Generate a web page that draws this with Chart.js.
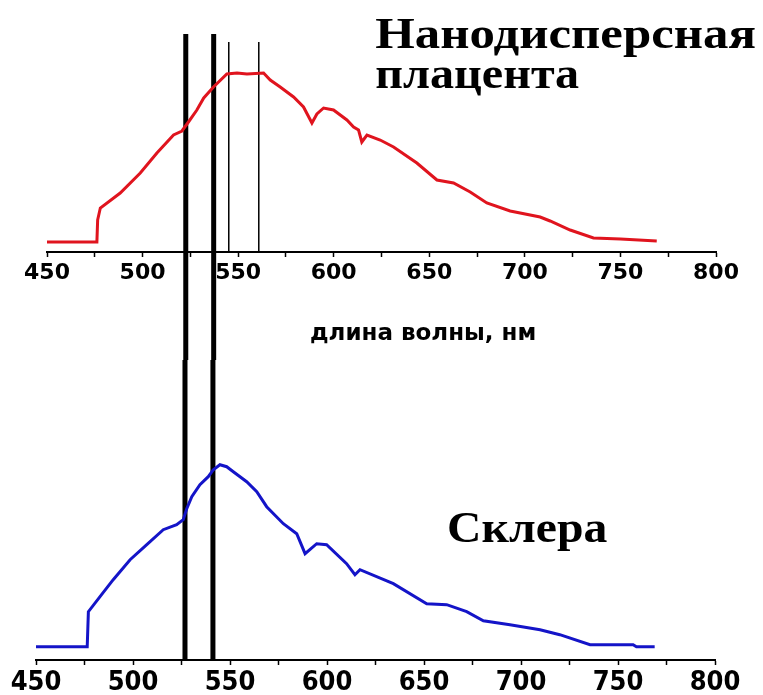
<!DOCTYPE html>
<html>
<head>
<meta charset="utf-8">
<script src="https://cdn.jsdelivr.net/npm/chart.js@4/dist/chart.umd.min.js"></script>
<style>
  html, body { margin: 0; padding: 0; background: #fff; }
  #wrap { position: relative; width: 763px; height: 695px; }
  canvas { position: absolute; left: 0; }
  #chart-top { top: 0; }
  #chart-bottom { top: 360px; }
</style>
</head>
<body>
<div id="wrap">
  <canvas id="chart-top" width="763" height="360"></canvas>
  <canvas id="chart-bottom" width="763" height="335"></canvas>
</div>
<script>
// spectra, wavelength in nm, intensity in arbitrary units
const wlPlacenta = [450, 476.1, 476.5, 477.9, 488.3, 498.8, 507.5, 516.2, 520.6, 524, 528.4, 532, 537.1, 544.1, 549.4, 554.6, 563.3, 566.8, 572, 579, 584.2, 588.6, 591.2, 594.7, 599.9, 606.9, 610.4, 613, 614.7, 617.4, 624.3, 631.3, 643.5, 654, 662.7, 671.4, 680.1, 692.3, 708, 713.2, 723.7, 735.9, 750, 769];
const valPlacenta = [0, 0, 22, 34, 49, 69, 89, 107, 111, 120, 132, 144, 155, 168, 169, 168, 169, 162, 155, 145, 135, 119, 128, 134, 132, 122, 115, 112, 100, 107, 102, 95, 79, 62, 59, 50, 39, 31, 25, 21, 12, 4, 3, 1];

const wlSclera = [450, 476.4, 477, 483, 489.8, 498.5, 507.1, 515.6, 522.5, 525.9, 527.7, 530.3, 534.5, 538.8, 541.4, 544.8, 548.3, 551.7, 558.6, 563.8, 568.9, 577.5, 584.4, 588.7, 594.7, 599.8, 610.1, 614.4, 617, 634.2, 651.4, 661.7, 672, 680.6, 694.3, 709.8, 720, 735.6, 757.8, 759.5, 768.9];
const valSclera = [0, 0, 35, 50, 67, 87, 102, 117, 122, 127, 138, 150, 162, 170, 177, 182, 180, 175, 165, 155, 140, 123, 113, 93, 103, 102, 83, 72, 77, 63, 43, 42, 35, 26, 22, 17, 12, 2, 2, 0, 0];

// marker wavelengths
const thickTop = [522.6, 537.2];
const thinTop = [545.1, 560.8];
const thickBottom = [526.8, 541.2];

const xTicks = [450, 500, 550, 600, 650, 700, 750, 800];
const axisTitle = 'длина волны, нм';
const titlePlacenta = ['Нанодисперсная', 'плацента'];
const titleSclera = 'Склера';

function toPoints(xs, ys) {
  return xs.map((x, i) => ({ x: x, y: ys[i] }));
}

function vline(x, y0, y1, width) {
  return {
    data: [{ x: x, y: y0 }, { x: x, y: y1 }],
    borderColor: '#000',
    borderWidth: width,
    pointRadius: 0,
    clip: false
  };
}

// draws free text anchored at data coordinates
const textPlugin = {
  id: 'dataText',
  afterDatasetsDraw(chart, args, opts) {
    const ctx = chart.ctx;
    const xs = chart.scales.x, ys = chart.scales.y;
    (opts.items || []).forEach(it => {
      ctx.save();
      ctx.font = it.font;
      ctx.fillStyle = '#000';
      ctx.textAlign = it.align || 'left';
      ctx.textBaseline = it.baseline || 'alphabetic';
      ctx.translate(xs.getPixelForValue(it.x), ys.getPixelForValue(it.y));
      ctx.scale(it.sx || 1, 1);
      ctx.fillText(it.text, 0, 0);
      ctx.restore();
    });
  }
};

function xScale(font, height, padding) {
  return {
    type: 'linear',
    min: 450,
    max: 800,
    afterFit: axis => { axis.height = height; },
    afterBuildTicks: axis => {
      const t = [];
      for (let v = 450; v <= 800; v += 25) t.push({ value: v });
      axis.ticks = t;
    },
    ticks: {
      autoSkip: false,
      maxRotation: 0,
      padding: padding,
      color: '#000',
      font: font,
      callback: v => xTicks.includes(v) ? String(v) : ''
    },
    grid: {
      drawOnChartArea: false,
      drawTicks: true,
      tickLength: 5,
      tickColor: '#000',
      tickWidth: 1.5
    },
    border: { display: true, color: '#000', width: 2 }
  };
}

Chart.register(textPlugin);

new Chart(document.getElementById('chart-top').getContext('2d'), {
  type: 'line',
  data: {
    datasets: [
      {
        data: toPoints(wlPlacenta, valPlacenta),
        borderColor: '#e0141e',
        borderWidth: 3,
        pointRadius: 0,
        tension: 0
      },
      vline(thickTop[0], 208, -118, 5),
      vline(thickTop[1], 208, -118, 5),
      vline(thinTop[0], 200, -10, 1.5),
      vline(thinTop[1], 200, -10, 1.5)
    ]
  },
  options: {
    responsive: false,
    animation: false,
    devicePixelRatio: 1,
    layout: { padding: { left: 47, right: 47, top: 35, bottom: 0 } },
    plugins: {
      legend: { display: false },
      tooltip: { enabled: false },
      dataText: {
        items: [
          { text: titlePlacenta[0], x: 621.7, y: 194, sx: 1.13, font: 'bold 45px "Liberation Serif"' },
          { text: titlePlacenta[1], x: 621.7, y: 154, sx: 1.07, font: 'bold 45px "Liberation Serif"' },
          { text: axisTitle, x: 646.8, y: -92, align: 'center', baseline: 'middle', font: 'bold 23px "DejaVu Sans"' }
        ]
      }
    },
    scales: {
      x: xScale({ family: 'DejaVu Sans', size: 22, weight: 'bold' }, 108, 3),
      y: { display: false, min: -10, max: 207 }
    }
  }
});

new Chart(document.getElementById('chart-bottom').getContext('2d'), {
  type: 'line',
  data: {
    datasets: [
      {
        data: toPoints(wlSclera, valSclera),
        borderColor: '#1414c8',
        borderWidth: 3,
        pointRadius: 0,
        tension: 0
      },
      vline(thickBottom[0], 286.7, -13.3, 5),
      vline(thickBottom[1], 286.7, -13.3, 5)
    ]
  },
  options: {
    responsive: false,
    animation: false,
    devicePixelRatio: 1,
    layout: { padding: { left: 36, right: 48, top: 0, bottom: 0 } },
    plugins: {
      legend: { display: false },
      tooltip: { enabled: false },
      dataText: {
        items: [
          { text: titleSclera, x: 661.9, y: 104.7, sx: 1.06, font: 'bold 45px "Liberation Serif"' }
        ]
      }
    },
    scales: {
      x: xScale({ family: 'DejaVu Sans Condensed', size: 27, weight: 'bold' }, 35, 2),
      y: { display: false, min: -13.3, max: 286.7 }
    }
  }
});
</script>
</body>
</html>
